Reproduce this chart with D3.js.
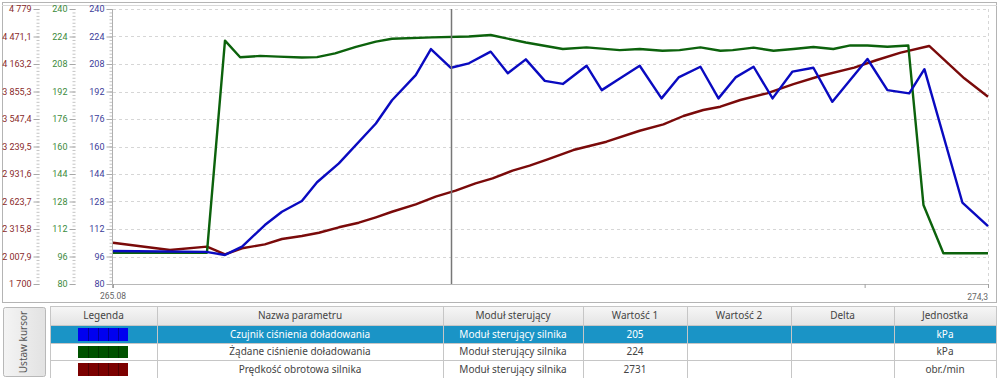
<!DOCTYPE html>
<html><head><meta charset="utf-8">
<script src="https://cdn.jsdelivr.net/npm/d3@7"></script>
<style>
html,body{margin:0;padding:0;background:#fff;}
svg{display:block;font-family:"Open Sans","Noto Sans",sans-serif;}
</style></head>
<body><svg id="c" width="1000" height="378"></svg>
<script>
// ---- data ----
const xDomain = [265.08, 274.3];
const xTickLabels = ["265.08", "274,3"];
const blueT = [265.08,266.06,266.26,266.44,266.68,266.86,267.07,267.23,267.46,267.85,268.02,268.27,268.43,268.64,268.83,269.06,269.24,269.43,269.63,269.82,270.07,270.23,270.42,270.63,270.86,271.04,271.27,271.46,271.64,271.83,272.03,272.24,272.46,272.66,272.85,273.03,273.24,273.47,273.63,274.03,274.30];
const blueV = [99.2,98.7,96.9,101.7,114.3,122,128.3,139.2,150.2,173.4,186.9,201.5,216.7,205.8,208.4,215.2,202.6,210.7,198.2,196.4,207,192.8,199.6,207,188,200.2,206.4,188,200.2,206.4,188,203.6,205.8,186,198.8,210.9,192.8,190.9,205,127.4,113.7];
const greenT = [265.08,266.07,266.26,266.42,266.63,266.82,267.07,267.23,267.42,267.64,267.85,268.02,268.44,268.83,269.06,269.43,269.82,270.07,270.42,270.63,270.87,271.05,271.27,271.48,271.61,271.83,272.04,272.25,272.46,272.67,272.85,273.03,273.24,273.46,273.62,273.83,274.30];
const greenV = [98.2,98.2,221.6,211.9,212.7,212.3,211.8,212,214.2,218,221,222.7,223.5,224,224.9,220.5,216.7,217.7,216.1,216.7,215.7,216.1,217.7,215.7,216.1,217.5,215.7,216.7,217.9,216.7,218.8,218.8,218,218.8,126,97.9,97.9];
const redT = [265.08,265.68,266.07,266.26,266.44,266.68,266.86,267.07,267.25,267.46,267.67,267.85,268.02,268.27,268.48,268.69,268.90,269.08,269.29,269.47,269.66,269.93,270.28,270.63,270.88,271.09,271.30,271.48,271.69,271.97,272.25,272.53,272.89,273.13,273.38,273.68,274.05,274.30];
const redV = [2162,2081,2118,2032,2100,2144,2204,2237,2274,2335,2386,2447,2509,2592,2678,2745,2827,2883,2969,3025,3096,3200,3293,3416,3488,3581,3648,3685,3760,3835,3939,4029,4122,4208,4290,4365,4003,3797];
const cursorT = 268.64;
const kpaTicks = [80,96,112,128,144,160,176,192,208,224,240];
const rpmTicks = [1700,2007.9,2315.8,2623.7,2931.6,3239.5,3547.4,3855.3,4163.2,4471.1,4779];
const rpmTickLabels = ["1 700","2 007,9","2 315,8","2 623,7","2 931,6","3 239,5","3 547,4","3 855,3","4 163,2","4 471,1","4 779"];
const tableHeaders = ["Legenda","Nazwa parametru","Moduł sterujący","Wartość 1","Wartość 2","Delta","Jednostka"];
const rowNames = ["Czujnik ciśnienia doładowania","Żądane ciśnienie doładowania","Prędkość obrotowa silnika"];
const rowModules = ["Moduł sterujący silnika","Moduł sterujący silnika","Moduł sterujący silnika"];
const rowValue1 = ["205","224","2731"];
const rowUnits = ["kPa","kPa","obr./min"];
const seriesColors = ["#0a0ac0","#0c620c","#7a0a0a"];
const swatchColors = ["#0000f0","#005200","#7c0000"];

// ---- chart ----
const svg = d3.select("#c");
const L = 113, R = 988, T = 9, B = 284;
const x = d3.scaleLinear().domain(xDomain).range([L, R]);
const yK = d3.scaleLinear().domain([80,240]).range([B, T]);
const yR = d3.scaleLinear().domain([1700,4779]).range([B, T]);

// panel frame
svg.append("rect").attr("x",2.5).attr("y",2.5).attr("width",994).attr("height",300)
  .attr("fill","#fff").attr("stroke","#b4b4b4");
svg.append("line").attr("x1",2).attr("x2",997).attr("y1",5.5).attr("y2",5.5).attr("stroke","#d8d8d8");

// grid
svg.append("g").selectAll("line").data(kpaTicks).join("line")
  .attr("x1",L).attr("x2",R).attr("y1",d=>Math.round(yK(d))+0.5).attr("y2",d=>Math.round(yK(d))+0.5)
  .attr("stroke","#d6d6d6").attr("stroke-dasharray","3,3");
svg.append("line").attr("x1",R+0.5).attr("x2",R+0.5).attr("y1",T).attr("y2",B)
  .attr("stroke","#d6d6d6").attr("stroke-dasharray","3,3");

function styleAxis(g, color){
  g.selectAll("line").attr("stroke","#a8a8a8");
  g.selectAll("text").attr("fill",color).style("font-size","9px").style("font-family","Roboto,'Liberation Sans',sans-serif");
  g.select(".domain").remove();
}
const minorK = d3.range(80,240.01,2);
const minorR = d3.range(0,81).map(i=>1700+i*3079/80);
function addAxis(xpos, scale, ticks, minor, fmt, color){
  const gm = svg.append("g").attr("transform",`translate(${xpos},0)`)
    .call(d3.axisLeft(scale).tickValues(minor).tickSize(3).tickFormat(""));
  gm.selectAll("line").attr("stroke","#c4c4c4"); gm.select(".domain").remove();
  const g = svg.append("g").attr("transform",`translate(${xpos},0)`)
    .call(d3.axisLeft(scale).tickValues(ticks).tickSize(6).tickPadding(2).tickFormat(fmt));
  styleAxis(g,color);
}
addAxis(39.5, yR, rpmTicks, minorR, (d,i)=>rpmTickLabels[i], "#8a2a2a");
addAxis(75.5, yK, kpaTicks, minorK, d=>d, "#3c8a3c");
addAxis(L-0.5, yK, kpaTicks, minorK, d=>d, "#3c3c9a");

// plot left & bottom border
svg.append("line").attr("x1",L-0.5).attr("x2",L-0.5).attr("y1",T).attr("y2",B+4).attr("stroke","#b0b0b0");
svg.append("line").attr("x1",L).attr("x2",R).attr("y1",B+0.5).attr("y2",B+0.5).attr("stroke","#b8b8b8");

// x axis
const xa = svg.append("g").attr("transform",`translate(0,${B})`)
  .call(d3.axisBottom(x).tickValues([xDomain[0], 273.0, xDomain[1]]).tickSize(4).tickFormat(""));
xa.select(".domain").remove();
xa.selectAll("line").attr("stroke","#a0a0a0");
svg.append("text").attr("x",x(xDomain[0])).attr("y",299).attr("text-anchor","middle")
  .attr("fill","#666").style("font-size","8.5px").style("font-family","Roboto,sans-serif").text(xTickLabels[0]);
svg.append("text").attr("x",x(xDomain[1])).attr("y",300).attr("text-anchor","end")
  .attr("fill","#666").style("font-size","8.5px").style("font-family","Roboto,sans-serif").text(xTickLabels[1]);

// lines
const lineK = d3.line().x(d=>x(d[0])).y(d=>yK(d[1]));
const lineR = d3.line().x(d=>x(d[0])).y(d=>yR(d[1]));
svg.append("path").datum(d3.zip(redT,redV)).attr("d",lineR).attr("fill","none")
  .attr("stroke",seriesColors[2]).attr("stroke-width",2.4).attr("stroke-linejoin","round");
svg.append("path").datum(d3.zip(greenT,greenV)).attr("d",lineK).attr("fill","none")
  .attr("stroke",seriesColors[1]).attr("stroke-width",2.4).attr("stroke-linejoin","round");
svg.append("path").datum(d3.zip(blueT,blueV)).attr("d",lineK).attr("fill","none")
  .attr("stroke",seriesColors[0]).attr("stroke-width",2.4).attr("stroke-linejoin","round");

// cursor
svg.append("line").attr("x1",Math.round(x(cursorT))+0.5).attr("x2",Math.round(x(cursorT))+0.5)
  .attr("y1",T).attr("y2",B).attr("stroke","#777").attr("stroke-width",1.5);

// ---- table ----
const cols = [50,157,443,583,687,791,894,996];
const rowsY = [306,325,343,360,378];
const tg = svg.append("g").style("font-family","'Noto Sans','Open Sans',sans-serif");
const grad = svg.append("defs").append("linearGradient").attr("id","hg").attr("x1",0).attr("x2",0).attr("y1",0).attr("y2",1);
grad.append("stop").attr("offset","0%").attr("stop-color","#f7f7f7");
grad.append("stop").attr("offset","100%").attr("stop-color","#e4e4e4");
tg.append("rect").attr("x",cols[0]).attr("y",rowsY[0]).attr("width",cols[7]-cols[0]).attr("height",rowsY[1]-rowsY[0]).attr("fill","url(#hg)");
tg.append("rect").attr("x",cols[0]).attr("y",rowsY[1]).attr("width",cols[7]-cols[0]).attr("height",rowsY[2]-rowsY[1]).attr("fill","#1a94c6");
cols.forEach(c=>tg.append("line").attr("x1",c+0.5).attr("x2",c+0.5).attr("y1",rowsY[0]).attr("y2",378).attr("stroke","#c6c6c6"));
rowsY.forEach(r=>tg.append("line").attr("x1",cols[0]).attr("x2",cols[7]).attr("y1",r+0.5).attr("y2",r+0.5).attr("stroke","#c6c6c6"));
tableHeaders.forEach((h,i)=>tg.append("text").attr("x",(cols[i]+cols[i+1])/2).attr("y",rowsY[0]+13)
  .attr("text-anchor","middle").attr("fill","#444").style("font-size","10px").text(h));
for(let r=0;r<3;r++){
  const y0=rowsY[r+1], y1=rowsY[r+2], cy=(y0+y1)/2+3.6;
  const col = r===0?"#fff":"#444";
  const cells=[null,rowNames[r],rowModules[r],rowValue1[r],"","",rowUnits[r]];
  cells.forEach((t,i)=>{ if(t) tg.append("text").attr("x",(cols[i]+cols[i+1])/2).attr("y",cy)
    .attr("text-anchor","middle").attr("fill",col).style("font-size","10px").text(t); });
  const sw=tg.append("g");
  sw.append("rect").attr("x",78).attr("y",y0+3).attr("width",50).attr("height",y1-y0-5).attr("fill",swatchColors[r]);
  d3.range(1,5).forEach(k=>sw.append("line").attr("x1",78+k*10+0.5).attr("x2",78+k*10+0.5).attr("y1",y0+3).attr("y2",y1-2)
    .attr("stroke","rgba(0,0,0,0.35)"));
}
// button
const bg=svg.append("defs").append("linearGradient").attr("id","bg").attr("x1",0).attr("x2",1).attr("y1",0).attr("y2",0);
bg.append("stop").attr("offset","0%").attr("stop-color","#f4f4f4");
bg.append("stop").attr("offset","100%").attr("stop-color","#e2e2e2");
svg.append("rect").attr("x",3.5).attr("y",307.5).attr("width",42).attr("height",69).attr("rx",2)
  .attr("fill","url(#bg)").attr("stroke","#b8b8b8");
svg.append("text").attr("transform","translate(27,342) rotate(-90)").attr("text-anchor","middle")
  .attr("fill","#555").style("font-size","10px").style("font-family","'Noto Sans',sans-serif").text("Ustaw kursor");
</script></body></html>
